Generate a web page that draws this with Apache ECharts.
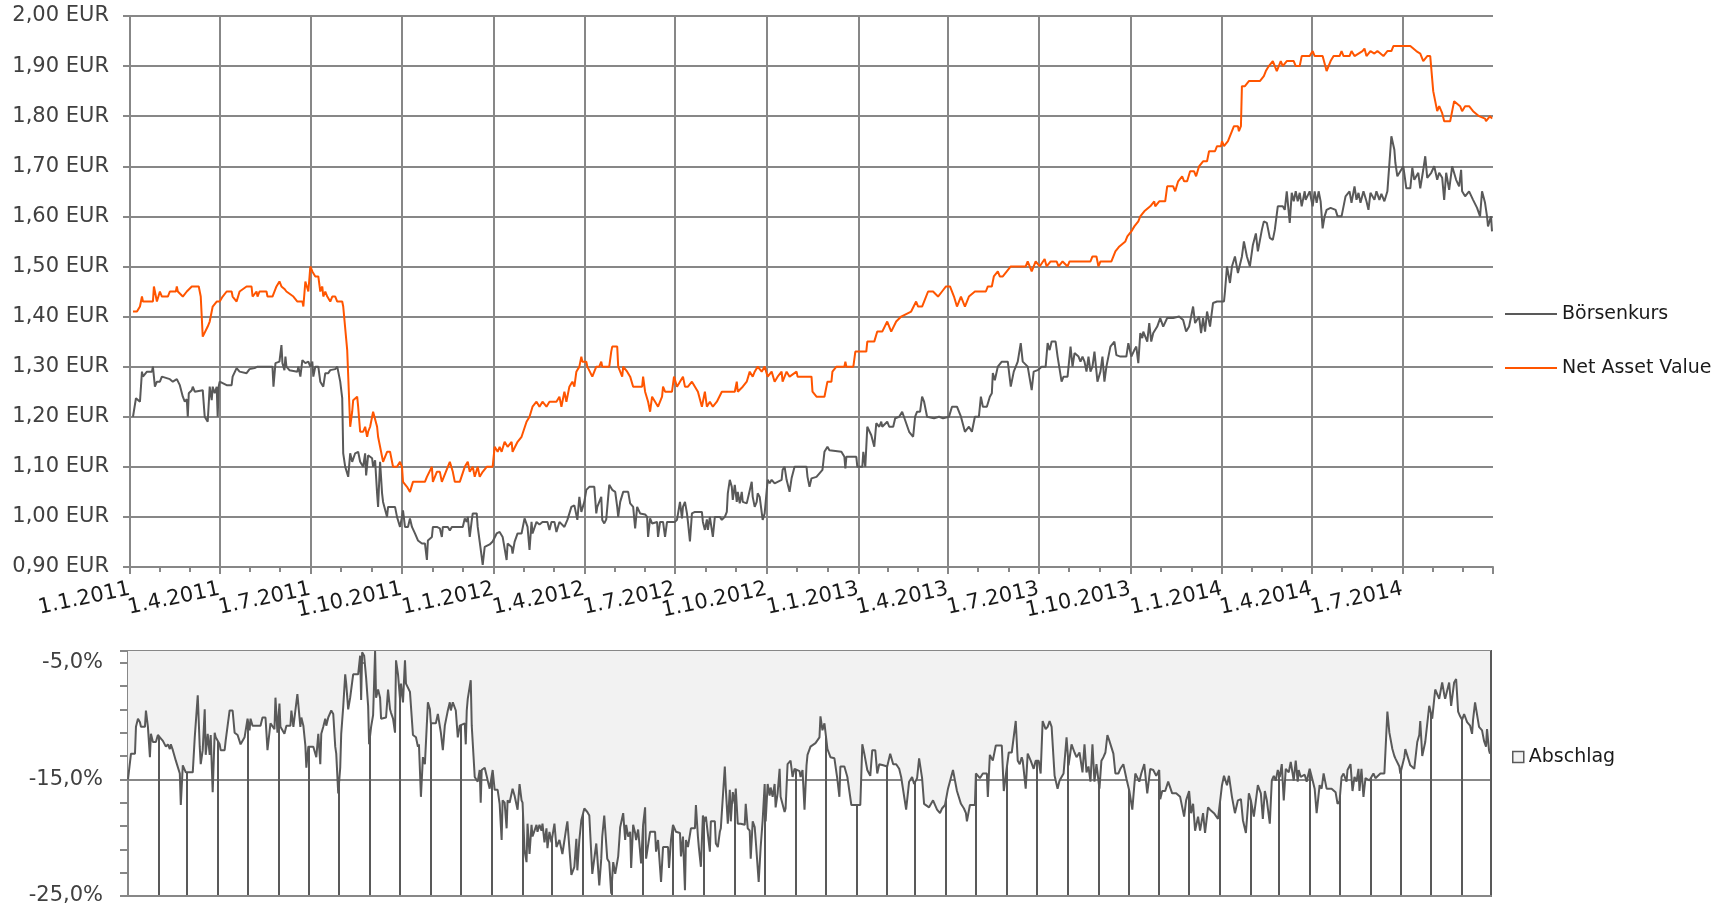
<!DOCTYPE html>
<html lang="de">
<head>
<meta charset="UTF-8">
<title>Börsenkurs, Net Asset Value und Abschlag</title>
<script src="https://cdn.jsdelivr.net/npm/echarts@6/dist/echarts.min.js"></script>
<style>
  html, body { margin: 0; padding: 0; background: #fff; }
  #chart { width: 1727px; height: 908px; }
</style>
</head>
<body>
<div id="chart"></div>
<script>
// Tage seit 1.1.2011 und Werte
var navDays = [
  3,7,10,12,13,23,24,27,30,32, 38,40,46,47,48,53,57,62,69,71,
  73,78,80,83,87,90,93,97,102,103, 107,110,117,122,123,127,128,130,137,138,
  143,147,150,152,155,157,164,168,173,174, 176,179,181,183,186,189,191,193,194,196,
  198,201,203,206,208,213,214,218,221,223, 224,226,228,229,231,234,236,238,239,241,
  244,248,249,254,258,261,264,268,271,273, 274,278,281,284,296,298,303,304,308,311,
  313,321,324,326,331,336,339,341,344,346, 349,351,354,358,364,366,369,371,373,376,
  379,383,384,389,393,398,401,404,408,411, 414,418,421,428,431,433,436,438,441,444,
  446,448,451,453,454,458,459,464,468,471, 473,474,481,483,484,489,490,494,495,499,
  502,505,514,515,517,520,522,524,527,530, 534,535,537,544,546,549,552,555,557,560,
  564,567,570,574,577,579,582,585,589,594, 607,609,610,615,619,622,625,627,630,634,
  637,640,644,647,650,654,655,659,662,669, 670,684,685,689,697,699,700,704,705,709,
  717,718,719,726,728,739,740,747,750,755, 760,764,769,774,784,789,791,795,797,801,
  806,811,815,819,823,827,830,834,838,842, 848,859,861,865,867,871,873,876,880,884,
  899,901,905,909,913,918,920,924,930,932, 936,941,943,964,966,970,972,974,985,989,
  993,999,1001,1005,1008,1012,1014,1018,1024,1028, 1029,1033,1039,1041,1047,1049,1052,1056,1058,1061,
  1064,1068,1070,1073,1077,1081,1083,1089,1091,1095, 1096,1098,1102,1106,1108,1112,1113,1115,1116,1119,
  1123,1134,1138,1140,1143,1147,1151,1155,1157,1161, 1168,1170,1174,1176,1184,1187,1189,1197,1201,1205,
  1208,1214,1216,1218,1224,1226,1229,1237,1239,1241, 1245,1249,1252,1258,1262,1266,1268,1285,1291,1295,
  1298,1302,1305,1308,1310,1312,1314,1317,1319,1325, 1329,1335,1337,1340,1344,1348,1354,1360,1361,1365,
  1367
];
var navValues = [
  1.41,1.41,1.42,1.44,1.43,1.43,1.46,1.43,1.45,1.44, 1.44,1.45,1.45,1.46,1.45,1.44,1.45,1.46,1.46,1.44,
  1.36,1.38,1.39,1.42,1.43,1.43,1.44,1.45,1.45,1.44, 1.43,1.45,1.46,1.46,1.44,1.45,1.44,1.45,1.45,1.44,
  1.44,1.46,1.47,1.46,1.455,1.45,1.44,1.43,1.43,1.42, 1.47,1.45,1.50,1.49,1.48,1.48,1.45,1.46,1.44,1.45,
  1.44,1.43,1.44,1.44,1.43,1.43,1.42,1.333,1.18,1.21, 1.233,1.23,1.24,1.22,1.17,1.17,1.18,1.16,1.17,1.18,
  1.21,1.18,1.16,1.11,1.13,1.13,1.10,1.10,1.11,1.10, 1.07,1.06,1.05,1.07,1.07,1.08,1.10,1.07,1.09,1.09,
  1.07,1.11,1.09,1.07,1.07,1.10,1.11,1.09,1.10,1.08, 1.10,1.08,1.09,1.10,1.10,1.14,1.13,1.14,1.13,1.15,
  1.14,1.15,1.13,1.15,1.16,1.19,1.20,1.22,1.23,1.22, 1.23,1.22,1.23,1.23,1.24,1.22,1.25,1.23,1.26,1.27,
  1.26,1.29,1.30,1.32,1.31,1.31,1.30,1.28,1.30,1.30, 1.31,1.30,1.30,1.33,1.34,1.34,1.30,1.28,1.30,1.29,
  1.28,1.26,1.26,1.28,1.25,1.23,1.21,1.24,1.23,1.22, 1.24,1.26,1.25,1.25,1.28,1.26,1.27,1.28,1.26,1.26,
  1.27,1.26,1.25,1.22,1.25,1.22,1.23,1.22,1.23,1.25, 1.25,1.27,1.25,1.26,1.27,1.29,1.28,1.29,1.30,1.29,
  1.30,1.28,1.29,1.27,1.28,1.29,1.27,1.29,1.28,1.29, 1.28,1.28,1.25,1.24,1.24,1.26,1.27,1.27,1.29,1.30,
  1.30,1.31,1.30,1.30,1.33,1.33,1.35,1.35,1.37,1.37, 1.39,1.37,1.39,1.40,1.41,1.43,1.42,1.42,1.43,1.45,
  1.45,1.44,1.45,1.46,1.46,1.44,1.42,1.44,1.42,1.44, 1.45,1.45,1.46,1.46,1.48,1.49,1.48,1.48,1.49,1.50,
  1.50,1.51,1.49,1.51,1.50,1.515,1.50,1.51,1.51,1.50, 1.51,1.50,1.51,1.51,1.52,1.52,1.50,1.51,1.51,1.53,
  1.54,1.55,1.56,1.57,1.58,1.59,1.60,1.61,1.62,1.63, 1.62,1.63,1.63,1.66,1.66,1.65,1.67,1.68,1.67,1.67,
  1.69,1.69,1.68,1.70,1.71,1.71,1.73,1.73,1.74,1.74, 1.75,1.74,1.75,1.77,1.78,1.78,1.77,1.78,1.86,1.86,
  1.87,1.87,1.88,1.89,1.90,1.91,1.89,1.91,1.90,1.91, 1.91,1.90,1.90,1.92,1.92,1.93,1.92,1.92,1.89,1.91,
  1.92,1.92,1.93,1.92,1.92,1.93,1.92,1.93,1.935,1.92, 1.93,1.925,1.93,1.92,1.93,1.93,1.94,1.94,1.93,1.925,
  1.91,1.92,1.92,1.85,1.83,1.81,1.82,1.806,1.79,1.79, 1.83,1.82,1.81,1.82,1.82,1.81,1.80,1.795,1.79,1.80,
  1.795
];

var kursDays = [
  3,5,6,8,10,12,13,17,22,23, 25,27,30,32,40,43,47,50,53,55,
  57,58,59,62,63,65,73,75,78,80, 82,83,85,87,88,89,90,93,97,102,
  103,107,110,117,120,125,128,143,144,146, 148,150,152,153,155,156,157,160,168,169,
  171,173,176,179,181,183,184,186,189,191, 194,196,199,201,206,208,209,211,213,214,
  216,219,221,223,224,226,229,231,234,236, 237,239,243,244,246,248,249,251,253,254,
  258,259,266,268,269,271,273,274,276,279, 281,283,286,289,293,296,298,299,303,304,
  308,311,313,314,319,321,323,334,336,338, 339,341,343,344,348,349,351,353,354,356,
  358,361,364,368,371,374,378,379,383,384, 386,389,393,396,399,401,403,404,408,411,
  414,419,421,423,426,428,431,436,439,443, 446,449,451,453,456,458,461,466,468,469,
  473,474,476,478,481,484,487,489,490,492, 495,500,502,505,507,509,512,517,519,520,
  522,524,529,530,532,535,537,539,547,549, 552,554,555,557,559,560,562,564,567,574,
  575,577,579,580,582,585,587,592,594,597, 599,600,602,604,605,607,609,610,612,614,
  615,619,624,625,627,629,630,632,635,637, 640,642,644,647,650,654,655,657,659,662,
  664,667,679,680,682,684,685,689,692,695, 697,700,702,704,714,717,718,719,729,730,
  735,736,738,740,744,745,747,749,752,754, 755,760,762,766,768,772,775,778,782,786,
  788,790,793,795,797,800,807,812,816,822, 825,830,834,838,842,845,848,852,854,856,
  860,863,865,866,868,871,875,881,884,887, 889,891,894,896,901,905,907,911,915,919,
  921,923,925,929,931,935,937,941,944,946, 948,952,954,956,958,960,962,964,966,968,
  971,974,976,978,980,984,988,990,994,1000, 1002,1005,1008,1010,1012,1014,1016,1017,1021,1023,
  1025,1027,1031,1034,1037,1041,1047,1053,1057,1060, 1063,1067,1069,1073,1075,1077,1079,1081,1084,1087,
  1091,1098,1099,1101,1104,1106,1109,1112,1116,1118, 1121,1124,1127,1130,1132,1136,1138,1141,1144,1147,
  1149,1152,1157,1159,1161,1164,1166,1168,1170,1172, 1174,1176,1179,1180,1184,1187,1189,1191,1193,1195,
  1197,1199,1201,1205,1210,1212,1216,1220,1224,1226, 1229,1231,1233,1235,1238,1241,1243,1245,1249,1251,
  1254,1256,1259,1262,1264,1266,1269,1270,1272,1275, 1278,1281,1285,1287,1289,1293,1295,1298,1300,1302,
  1306,1309,1312,1314,1317,1319,1321,1324,1327,1329, 1331,1334,1336,1337,1340,1344,1348,1352,1355,1357,
  1360,1362,1363,1366,1367
];
var kursValues = [
  1.20,1.20,1.237,1.237,1.23,1.29,1.28,1.29,1.29,1.30, 1.26,1.27,1.27,1.28,1.275,1.27,1.275,1.263,1.24,1.23,
  1.235,1.20,1.247,1.253,1.26,1.25,1.253,1.20,1.19,1.26, 1.233,1.26,1.247,1.26,1.20,1.26,1.27,1.267,1.263,1.263,
  1.28,1.297,1.29,1.287,1.295,1.297,1.30,1.30,1.26,1.307, 1.307,1.31,1.343,1.307,1.293,1.32,1.30,1.293,1.29,1.30,
  1.28,1.313,1.307,1.31,1.30,1.31,1.28,1.30,1.30,1.27, 1.26,1.287,1.287,1.293,1.295,1.30,1.297,1.27,1.237,1.127,
  1.10,1.08,1.127,1.11,1.11,1.127,1.13,1.11,1.10,1.127, 1.083,1.123,1.117,1.10,1.113,1.047,1.02,1.11,1.047,1.03,
  1.00,1.02,1.02,1.00,1.00,0.98,1.00,1.013,0.98,0.98, 0.997,0.98,0.967,0.953,0.947,0.947,0.914,0.953,0.96,0.98,
  0.98,0.977,0.96,0.98,0.98,0.973,0.98,0.98,0.997,0.99, 1.00,0.96,0.993,1.007,1.007,0.98,0.95,0.92,0.904,0.94,
  0.94,0.945,0.951,0.967,0.97,0.96,0.914,0.947,0.94,0.927, 0.95,0.967,0.967,0.997,0.98,0.934,0.99,0.967,0.99,0.985,
  0.99,0.99,0.974,0.99,0.99,0.97,0.99,0.98,0.994,1.02, 1.023,0.994,1.04,1.01,1.03,1.054,1.06,1.06,1.007,1.02,
  1.04,0.994,0.987,0.995,1.064,1.054,1.05,1.02,1.00,1.03, 1.05,1.05,1.027,1.02,0.977,1.02,1.007,1.005,1.00,0.96,
  0.997,0.987,0.99,0.96,0.99,0.99,0.96,0.99,0.99,0.994, 1.03,0.997,1.02,1.03,1.007,0.99,0.951,1.007,1.01,1.01,
  0.99,0.974,0.995,0.974,1.00,0.96,1.00,1.00,0.994,1.00, 1.01,1.047,1.074,1.06,1.034,1.064,1.03,1.05,1.027,1.05,
  1.03,1.027,1.07,1.04,1.02,1.03,1.047,1.04,0.994,1.007, 1.074,1.067,1.074,1.067,1.07,1.074,1.094,1.10,1.074,1.05,
  1.077,1.10,1.10,1.08,1.06,1.077,1.08,1.08,1.087,1.094, 1.13,1.14,1.133,1.13,1.13,1.12,1.097,1.12,1.12,1.10,
  1.10,1.13,1.10,1.18,1.163,1.165,1.14,1.187,1.18,1.19, 1.18,1.19,1.18,1.18,1.197,1.20,1.21,1.193,1.17,1.16,
  1.20,1.21,1.21,1.24,1.23,1.20,1.197,1.20,1.197,1.20, 1.22,1.22,1.20,1.17,1.18,1.17,1.20,1.20,1.24,1.22,
  1.22,1.24,1.247,1.287,1.273,1.30,1.31,1.31,1.26,1.29, 1.29,1.31,1.347,1.31,1.30,1.253,1.29,1.293,1.30,1.30,
  1.347,1.333,1.35,1.35,1.32,1.27,1.28,1.28,1.34,1.30, 1.327,1.32,1.31,1.32,1.31,1.29,1.32,1.29,1.30,1.33,
  1.27,1.29,1.32,1.27,1.30,1.34,1.35,1.323,1.32,1.32, 1.347,1.32,1.333,1.34,1.307,1.367,1.357,1.37,1.35,1.387,
  1.35,1.367,1.38,1.397,1.38,1.397,1.397,1.40,1.393,1.37, 1.38,1.42,1.387,1.40,1.367,1.397,1.37,1.41,1.38,1.427,
  1.43,1.43,1.45,1.50,1.467,1.50,1.52,1.487,1.52,1.55, 1.52,1.50,1.543,1.566,1.53,1.573,1.59,1.587,1.557,1.553,
  1.573,1.62,1.62,1.613,1.65,1.587,1.647,1.63,1.65,1.63, 1.647,1.62,1.65,1.633,1.65,1.62,1.65,1.627,1.65,1.63,
  1.576,1.60,1.613,1.617,1.613,1.60,1.60,1.64,1.65,1.627, 1.66,1.633,1.647,1.627,1.65,1.63,1.613,1.647,1.633,1.65,
  1.633,1.645,1.63,1.65,1.653,1.76,1.733,1.707,1.68,1.69, 1.70,1.656,1.656,1.697,1.673,1.687,1.656,1.693,1.72,1.677,
  1.687,1.70,1.673,1.687,1.677,1.633,1.687,1.653,1.70,1.70, 1.673,1.66,1.693,1.65,1.64,1.65,1.633,1.617,1.60,1.65,
  1.627,1.60,1.58,1.60,1.57
];

var abschlagDays = [
  0,2,3,7,8,10,12,13,17,18, 20,22,23,25,28,30,32,35,38,40,
  42,43,45,48,50,52,53,55,57,58, 65,67,70,72,73,75,77,78,80,82,
  83,85,87,88,92,93,97,98,100,102, 105,107,110,113,117,120,122,123,125,133,
  135,138,140,143,147,148,150,152,153,157, 159,163,164,166,168,170,173,174,176,178,
  179,181,186,189,191,193,194,196,198,199, 201,204,206,208,209,211,213,214,216,218,
  219,221,223,226,231,233,234,235,237,239, 241,242,244,246,248,249,251,253,254,259,
  261,263,264,266,268,269,271,273,274,276, 278,279,283,286,289,291,292,294,296,298,
  299,301,303,304,309,311,314,316,318,321, 323,324,326,329,331,333,338,339,340,341,
  343,344,345,347,348,351,353,354,355,358, 360,363,365,366,368,371,373,375,376,378,
  380,381,383,386,388,390,391,393,395,396, 398,400,401,403,405,406,410,411,413,415,
  416,418,420,421,423,425,428,430,433,436, 440,441,443,445,448,450,451,453,455,458,
  461,463,466,470,471,473,475,476,478,481, 483,485,487,489,492,494,497,499,500,502,
  504,505,507,509,510,512,515,517,519,520, 522,524,529,530,532,535,537,542,543,545,
  547,550,554,555,557,559,560,562,565,569, 570,572,573,575,577,579,580,584,585,589,
  590,592,594,595,599,600,602,604,605,607, 609,610,612,615,619,620,622,624,625,627,
  629,630,633,635,637,639,640,642,644,645, 647,649,650,652,654,655,659,660,662,665,
  667,669,674,675,677,679,681,682,685,687, 690,694,695,697,699,700,702,705,709,712,
  714,715,719,722,723,726,735,737,739,742, 745,747,750,752,754,758,762,765,768,771,
  774,776,778,781,784,787,789,792,794,797, 799,804,808,812,815,817,820,823,825,828,
  830,832,836,839,841,842,845,850,851,855, 858,862,863,865,868,871,877,879,881,884,
  887,891,893,895,897,898,901,903,906,909, 911,914,916,918,921,923,925,927,930,933,
  935,939,942,944,947,950,952,955,958,960, 962,964,966,968,970,972,975,977,979,981,
  983,985,989,991,994,996,999,1002,1005,1008, 1011,1012,1015,1017,1020,1023,1026,1029,1032,1035,
  1036,1038,1041,1044,1048,1052,1056,1060,1062,1065, 1067,1069,1071,1074,1076,1079,1081,1084,1086,1090,
  1094,1098,1100,1103,1105,1108,1111,1114,1117,1119, 1122,1125,1127,1130,1134,1137,1139,1141,1143,1146,
  1148,1150,1152,1154,1156,1158,1160,1162,1165,1167, 1170,1172,1174,1175,1177,1181,1183,1186,1189,1191,
  1193,1196,1198,1200,1203,1208,1212,1214,1216,1218, 1220,1223,1224,1227,1229,1231,1233,1235,1236,1238,
  1240,1242,1244,1246,1250,1252,1257,1261,1262,1264, 1266,1269,1271,1272,1276,1277,1279,1281,1282,1284,
  1287,1291,1294,1296,1297,1299,1302,1306,1307,1309, 1311,1312,1314,1316,1319,1321,1322,1324,1326,1328,
  1331,1333,1335,1337,1339,1341,1344,1347,1349,1350, 1352,1354,1356,1359,1361,1363,1364,1366,1367
];
var abschlagValues = [
  -15,-15,-12.8,-12.8,-10.5,-9.8,-10.1,-10.5,-10.5,-9.1, -10.5,-13.1,-11.1,-11.8,-11.8,-11.2,-11.4,-11.7,-12.2,-12,
  -12.4,-12,-12.5,-13.4,-13.5,-14.5,-17.2,-13.8,-13.7,-14.4, -14.4,-11.4,-7.8,-12.2,-13.7,-12.5,-9,-12.9,-11.1,-12.9,
  -11.2,-16.1,-11,-11.4,-12,-12.5,-12.5,-11.7,-10.4,-9.1, -9.1,-11,-11.2,-12,-11.4,-9.8,-10.8,-9.8,-10.4,-10.4,
  -9.7,-9.7,-12.5,-10.2,-10.7,-8,-11,-8.5,-10.5,-11.1, -10.4,-10.4,-9.1,-10.5,-9.1,-7.7,-10.5,-9.7,-10.4,-12.1,
  -14,-12.2,-12.2,-13.1,-11.1,-13.7,-11.1,-10.5,-9.8,-10.4, -9.7,-9.1,-9.4,-12.2,-12.8,-16.2,-14,-11.1,-8.8,-6,
  -6.8,-9,-8,-6,-6,-4.4,-8.2,-4.1,-4.4,-6.3, -8.7,-12,-10.5,-9.5,-4,-8,-7.3,-8,-9.8,-9.7,
  -7.3,-9,-9.3,-9.8,-11,-4.8,-6,-8.1,-6.8,-8.4, -4.8,-6.8,-7.5,-11.2,-11.4,-12.2,-12,-16.5,-13.1,-13.7,
  -13.6,-8.4,-9,-10.2,-10.2,-9.4,-11,-12.5,-10.4,-9.1, -8.4,-9.1,-8.4,-9.1,-11.4,-10.4,-10.2,-12,-9.1,-8.1,
  -8,-6.5,-10.4,-10.5,-14.8,-15.2,-14.2,-17,-14.2,-14, -14.1,-15.8,-15.8,-14.2,-15.9,-15.9,-17.1,-20.2,-16.8,-17,
  -19.2,-16.8,-17,-15.8,-16.4,-16.3,-17.6,-15.4,-16.8,-17, -21.1,-22.1,-18.8,-21.4,-18.9,-19.9,-18.9,-19.5,-18.9,-19.4,
  -18.8,-20.4,-19.2,-20.9,-19.5,-20.4,-18.8,-20.8,-20.2,-21.4, -19.1,-18.6,-18.6,-23.2,-22.5,-20.1,-22.8,-20.2,-18.5,-17.5,
  -17.8,-18.1,-23.1,-20.5,-21.6,-24.1,-21.8,-19.9,-18.1,-21.8, -22.1,-24.8,-22.1,-23.1,-21.6,-19.1,-17.9,-20.2,-18.9,-19.9,
  -19.5,-22.6,-18.9,-19.6,-20.2,-19.3,-22.2,-18.9,-17.4,-21.8, -21.8,-19.5,-19.5,-21.2,-20.2,-23.8,-20.8,-20.8,-22.6,-20.2,
  -18.9,-19.5,-19.6,-21.6,-19.9,-24.5,-20.2,-20.8,-19.2,-19.2, -17.2,-19.9,-20.9,-22.5,-18.1,-18.6,-18.2,-21.2,-18.6,-18.6,
  -20.5,-20.8,-19.5,-19.2,-13.9,-15.8,-18.8,-15.9,-18.6,-16.1, -17.1,-15.8,-18.8,-18.8,-18.9,-17.1,-19.2,-19.4,-21.8,-18.6,
  -19.1,-20.2,-23.8,-20.8,-18.5,-15.4,-18.6,-15.4,-16.4,-15.7, -16.5,-15.4,-17.4,-16.2,-14.1,-16.5,-17.8,-17.5,-13.7,-13.4,
  -14.8,-14.1,-14.3,-14.8,-14.2,-17.6,-13.8,-12.9,-12.2,-12.2, -11.9,-11.4,-9.6,-10.8,-10.2,-10.2,-12.4,-13.1,-13.2,-15,
  -16.5,-13.9,-13.9,-14.8,-14.9,-17.2,-17.2,-12,-12.8,-14.2, -14.7,-12.5,-12.5,-14.5,-13.7,-13.8,-13.9,-12.8,-13.7,-13.7,
  -14.1,-14.8,-14.9,-17.6,-15.2,-14.8,-15.4,-14.9,-13.2,-14.9, -17.1,-17.4,-16.8,-17.6,-17.9,-17.5,-17.2,-15.8,-15.8,-14.2,
  -14.1,-16,-17.1,-17.5,-17.9,-18.6,-17.2,-17.2,-14.5,-14.9, -14.5,-14.5,-16.5,-12.9,-13.4,-12.1,-12.1,-16,-16.1,-12.7,
  -12.7,-10,-13.4,-13.7,-13.1,-13.4,-15.8,-12.8,-13.4,-14.1, -13.4,-13.4,-14.5,-10,-10.7,-10.5,-10,-10.5,-14.7,-15.8,
  -15.1,-14.5,-11.4,-13.8,-12,-12.7,-13.1,-12.7,-14.4,-12, -14.4,-13.9,-15.2,-12,-15.2,-13.7,-15.8,-13.4,-13.1,-12.7,
  -11.2,-11.7,-12.8,-14.5,-14.5,-14.1,-13.7,-14.9,-16,-17.6, -14.5,-14.4,-15.2,-14.5,-13.7,-16.2,-14.1,-14.2,-14.7,-14.2,
  -16.7,-16,-16,-15.2,-16.2,-16.2,-16.5,-18.2,-16.8,-16, -17.9,-17.1,-19.4,-18.2,-19.4,-17.9,-19.6,-17.4,-17.6,-17.9,
  -18.4,-15.5,-14.7,-15.5,-14.7,-16.5,-17.9,-16.8,-16.7,-18.5, -19.6,-16.2,-16.8,-18.2,-15.5,-16.2,-18.4,-16,-16.8,-18.8,
  -15.1,-14.7,-15.1,-14.2,-14.8,-13.7,-16.8,-14.1,-14.4,-13.5, -15.1,-13.4,-15.2,-14.2,-14.8,-14.6,-15.2,-14.1,-15.1,-15.8,
  -17.9,-15.5,-15.8,-14.5,-15.8,-15.8,-16.1,-17.1,-16.9,-14.8, -14.5,-15.2,-14.2,-13.7,-16,-14.8,-15.2,-14.1,-16,-14.1,
  -16.5,-14.9,-14.8,-15.1,-14.5,-14.9,-14.5,-14.5,-14.5,-9.2, -11,-12.4,-13,-13.2,-13.9,-14.5,-14.4,-13.1,-12.4,-12.5,
  -13.8,-14.1,-11.8,-11.2,-10,-13,-11.8,-8.7,-8.8,-9.8, -9.8,-7.3,-7.4,-8.1,-6.7,-7.7,-8.1,-8.2,-6.7,-8.7,
  -6.7,-6.4,-9.2,-9.6,-9.9,-9.4,-10.1,-10.4,-11.1,-9.9, -8.4,-8.5,-10.5,-10.8,-11.7,-12.2,-10.7,-12.5,-12.8
];

var DAY = 86400000;
var xMin = new Date(2011, 0, 1).getTime();
var xMax = new Date(2014, 8, 30).getTime();
var gridGrey = '#878787';
var lineGrey = '#595959';
var font = 'DejaVu Sans, Verdana, sans-serif';

function toTime(d) {
  return new Date(2011, 0, 1 + d).getTime();
}
function points(days, values) {
  return days.map(function (d, i) { return [toTime(d), values[i]]; });
}
function quarterLabel(value) {
  var d = new Date(value);
  if (d.getDate() !== 1 || d.getMonth() % 3 !== 0) return '';
  return '1.' + (d.getMonth() + 1) + '.' + d.getFullYear();
}

var chart = echarts.init(document.getElementById('chart'), null, { renderer: 'canvas' });

var option = {
  animation: false,
  backgroundColor: '#ffffff',
  textStyle: { fontFamily: font },
  grid: [
    { left: 130, right: 234, top: 16, bottom: 341, outerBoundsMode: 'none' },
    { left: 128, right: 236, top: 651, bottom: 12, outerBoundsMode: 'none',
      show: true, borderColor: lineGrey, borderWidth: 2 }
  ],
  xAxis: [
    {
      type: 'time', gridIndex: 0, min: xMin, max: xMax,
      minInterval: 91.5 * DAY, maxInterval: 91.5 * DAY,
      axisLine: { lineStyle: { color: gridGrey, width: 2 } },
      axisTick: { show: true, length: 7, lineStyle: { color: gridGrey, width: 2 } },
      minorTick: { show: true, splitNumber: 3, length: 5, lineStyle: { color: gridGrey, width: 2 } },
      splitLine: { show: true, showMaxLine: false, lineStyle: { color: gridGrey, width: 2 } },
      axisLabel: {
        rotate: 12, margin: 22, color: '#1a1a1a', fontSize: 21, fontFamily: font,
        hideOverlap: false, formatter: quarterLabel
      }
    },
    {
      type: 'time', gridIndex: 1, min: xMin, max: xMax,
      minInterval: 30.8 * DAY, maxInterval: 30.8 * DAY,
      axisLine: { lineStyle: { color: gridGrey, width: 2 } },
      axisTick: { show: false },
      axisLabel: { show: false },
      splitLine: { show: true, lineStyle: { color: lineGrey, width: 2 } }
    }
  ],
  yAxis: [
    {
      type: 'value', gridIndex: 0, min: 0.9, max: 2.0, interval: 0.1,
      axisLine: { show: true, lineStyle: { color: gridGrey, width: 2 } },
      axisTick: { show: true, length: 7, lineStyle: { color: gridGrey, width: 2 } },
      splitLine: { show: true, lineStyle: { color: gridGrey, width: 2 } },
      axisLabel: {
        margin: 21, color: '#404040', fontSize: 21, fontFamily: font,
        formatter: function (v) { return v.toFixed(2).replace('.', ',') + ' EUR'; }
      }
    },
    {
      type: 'value', gridIndex: 1, position: 'left', min: -25, max: -4, interval: 10,
      axisLine: { show: true, lineStyle: { color: gridGrey, width: 2 } },
      axisTick: { show: false },
      splitLine: { show: true, lineStyle: { color: gridGrey, width: 2 } },
      axisLabel: {
        margin: 25, color: '#404040', fontSize: 21, fontFamily: font,
        formatter: function (v) {
          if (Math.abs((v + 25) % 10) > 0.001) return '';
          return v.toFixed(1).replace('.', ',') + '%';
        }
      }
    },
    {
      type: 'value', gridIndex: 1, position: 'left', min: -25, max: -4, interval: 2,
      axisLine: { show: false },
      axisTick: { show: true, length: 8, lineStyle: { color: gridGrey, width: 2 } },
      splitLine: { show: false },
      axisLabel: { show: false }
    }
  ],
  legend: [
    {
      data: [
        { name: 'Börsenkurs', icon: 'rect' },
        { name: 'Net Asset Value', icon: 'rect' }
      ],
      orient: 'vertical', left: 1500, top: 299,
      itemWidth: 52, itemHeight: 2, itemGap: 34,
      selectedMode: false,
      textStyle: { color: '#1a1a1a', fontSize: 19, lineHeight: 20, fontFamily: font }
    },
    {
      data: [
        { name: 'Abschlag', icon: 'rect',
          itemStyle: { color: '#f2f2f2', borderColor: lineGrey, borderWidth: 1.5 } }
      ],
      orient: 'vertical', left: 1507, top: 742,
      itemWidth: 11, itemHeight: 11,
      selectedMode: false,
      textStyle: { color: '#1a1a1a', fontSize: 19, lineHeight: 20, fontFamily: font }
    }
  ],
  series: [
    {
      name: 'Börsenkurs', type: 'line', xAxisIndex: 0, yAxisIndex: 0,
      data: points(kursDays, kursValues),
      symbol: 'none', silent: true,
      itemStyle: { color: lineGrey },
      lineStyle: { color: lineGrey, width: 2 }
    },
    {
      name: 'Net Asset Value', type: 'line', xAxisIndex: 0, yAxisIndex: 0,
      data: points(navDays, navValues),
      symbol: 'none', silent: true,
      itemStyle: { color: '#ff5500' },
      lineStyle: { color: '#ff5500', width: 2 }
    },
    {
      name: 'Abschlag', type: 'line', xAxisIndex: 1, yAxisIndex: 1,
      data: points(abschlagDays, abschlagValues),
      symbol: 'none', silent: true,
      itemStyle: { color: lineGrey },
      lineStyle: { color: lineGrey, width: 2 },
      areaStyle: { color: '#f2f2f2', opacity: 1, origin: 'end' }
    }
  ]
};

chart.setOption(option);
</script>
</body>
</html>
